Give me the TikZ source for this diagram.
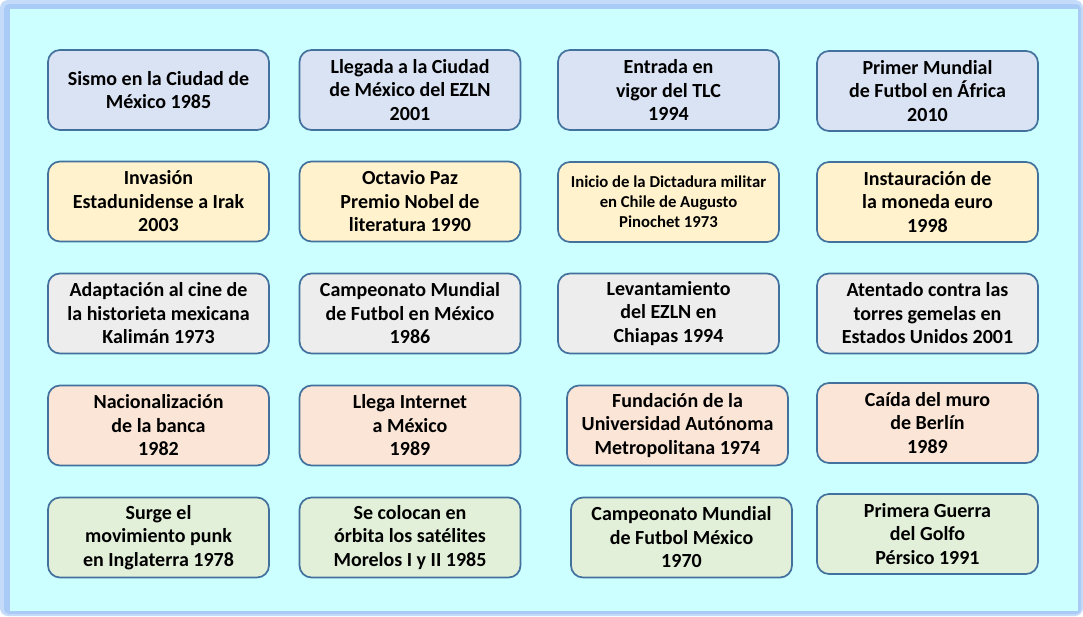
\documentclass[tikz,border=0pt]{standalone}
\usepackage{fontspec}
\setmainfont{Carlito}
\definecolor{glowA}{HTML}{C4DCF9}
\definecolor{glowB}{HTML}{A9CBF5}
\definecolor{panel}{HTML}{CCFFFF}
\definecolor{edge}{HTML}{41719C}
\definecolor{fblue}{HTML}{DAE3F3}
\definecolor{fyellow}{HTML}{FFF2CC}
\definecolor{fgray}{HTML}{EDEDED}
\definecolor{fpeach}{HTML}{FBE5D6}
\definecolor{fgreen}{HTML}{E2F0D9}
\tikzset{
  evbox/.style={draw=edge, line width=1.7pt, rounded corners=12pt,
    minimum width=221pt, minimum height=80pt, inner sep=0pt,
    align=center, text=black, font=\fontsize{20}{23.5}\selectfont\bfseries},
  smalltext/.style={font=\fontsize{16.7}{20}\selectfont\bfseries}
}
\begin{document}
\begin{tikzpicture}[x=1pt,y=-1pt]
\useasboundingbox (0,0) rectangle (1083,616);
\fill[glowA, rounded corners=8pt] (0,0) rectangle (1083,616);
\fill[glowB, rounded corners=5pt] (4,4) rectangle (1081,614);
\fill[panel] (10,9) rectangle (1078,611);
% row 1
\node[evbox, fill=fblue] (a1) at (158.5,90) {Sismo en la Ciudad de\\México 1985};
\node[evbox, fill=fblue] (a2) at (410,90) {Llegada a la Ciudad\\de México del EZLN\\2001};
\node[evbox, fill=fblue] (a3) at (668.5,90) {Entrada en\\vigor del TLC\\1994};
\node[evbox, fill=fblue] (a4) at (927.5,91) {Primer Mundial\\de Futbol en África\\2010};
% row 2
\node[evbox, fill=fyellow] (b1) at (158.5,201.5) {Invasión\\Estadunidense a Irak\\2003};
\node[evbox, fill=fyellow] (b2) at (410,201.5) {Octavio Paz\\Premio Nobel de\\literatura 1990};
\node[evbox, smalltext, fill=fyellow] (b3) at (668.5,202) {Inicio de la Dictadura militar\\en Chile de Augusto\\Pinochet 1973};
\node[evbox, fill=fyellow] (b4) at (927.5,202) {Instauración de\\la moneda euro\\1998};
% row 3
\node[evbox, fill=fgray] (c1) at (158.5,313.5) {Adaptación al cine de\\la historieta mexicana\\Kalimán 1973};
\node[evbox, fill=fgray] (c2) at (410,313.5) {Campeonato Mundial\\de Futbol en México\\1986};
\node[evbox, fill=fgray] (c3) at (668.5,313.5) {Levantamiento\\del EZLN en\\Chiapas 1994};
\node[evbox, fill=fgray] (c4) at (927.5,313.5) {Atentado contra las\\torres gemelas en\\Estados Unidos 2001};
% row 4
\node[evbox, fill=fpeach] (d1) at (158.5,425.5) {Nacionalización\\de la banca\\1982};
\node[evbox, fill=fpeach] (d2) at (410,425.5) {Llega Internet\\a México\\1989};
\node[evbox, fill=fpeach] (d3) at (677.5,425.5) {Fundación de la\\Universidad Autónoma\\Metropolitana 1974};
\node[evbox, fill=fpeach] (d4) at (927.5,423) {Caída del muro\\de Berlín\\1989};
% row 5
\node[evbox, fill=fgreen] (e1) at (158.5,537.5) {Surge el\\movimiento punk\\en Inglaterra 1978};
\node[evbox, fill=fgreen] (e2) at (410,537.5) {Se colocan en\\órbita los satélites\\Morelos I y II 1985};
\node[evbox, fill=fgreen] (e3) at (681.5,537.5) {Campeonato Mundial\\de Futbol México\\1970};
\node[evbox, fill=fgreen] (e4) at (927.5,534) {Primera Guerra\\del Golfo\\Pérsico 1991};
\end{tikzpicture}
\end{document}
